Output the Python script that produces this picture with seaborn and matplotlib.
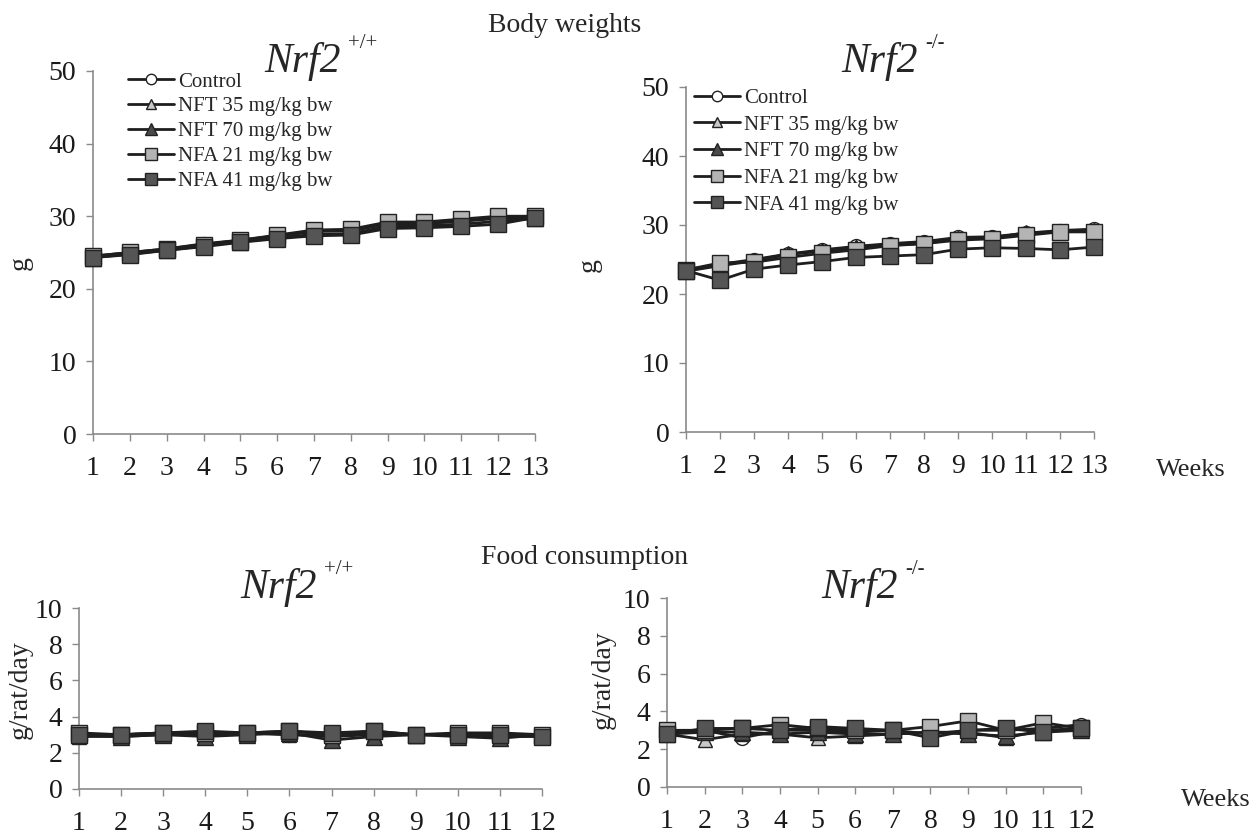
import numpy as np
import matplotlib
matplotlib.use("Agg")
import matplotlib.pyplot as plt
import seaborn as sns

# ---- data ----
groups = ["Control", "NFT 35 mg/kg bw", "NFT 70 mg/kg bw", "NFA 21 mg/kg bw", "NFA 41 mg/kg bw"]
weeks_bw = list(range(1, 14))
weeks_fc = list(range(1, 13))

bw_wt_control = [24.5, 25.0, 25.5, 26.2, 26.7, 27.3, 28.0, 28.0, 29.0, 29.0, 29.4, 29.8, 30.0]
bw_wt_nft35 = [24.4, 24.9, 25.4, 26.0, 26.6, 27.2, 27.9, 28.0, 28.9, 29.0, 29.3, 29.7, 29.8]
bw_wt_nft70 = [24.3, 24.8, 25.3, 25.9, 26.5, 27.0, 27.5, 27.6, 28.6, 28.7, 28.9, 29.3, 29.7]
bw_wt_nfa21 = [24.5, 25.0, 25.5, 26.1, 26.7, 27.4, 28.1, 28.2, 29.2, 29.2, 29.6, 30.0, 30.0]
bw_wt_nfa41 = [24.3, 24.7, 25.3, 25.8, 26.4, 26.9, 27.3, 27.4, 28.3, 28.4, 28.6, 28.9, 29.8]

bw_ko_control = [23.5, 24.3, 25.0, 25.8, 26.4, 26.9, 27.3, 27.6, 28.2, 28.3, 28.8, 29.2, 29.4]
bw_ko_nft35 = [23.4, 24.2, 24.9, 25.7, 26.3, 26.8, 27.2, 27.5, 28.1, 28.2, 28.7, 29.1, 29.3]
bw_ko_nft70 = [23.3, 24.1, 24.8, 25.8, 26.2, 26.7, 27.1, 27.3, 28.0, 28.1, 28.9, 29.0, 29.2]
bw_ko_nfa21 = [23.5, 24.5, 24.6, 25.3, 25.9, 26.4, 27.0, 27.3, 27.8, 28.0, 28.5, 29.0, 29.0]
bw_ko_nfa41 = [23.4, 22.0, 23.6, 24.2, 24.7, 25.3, 25.5, 25.7, 26.5, 26.7, 26.6, 26.4, 26.8]

fc_wt_control = [3.0, 3.0, 3.1, 3.1, 3.1, 3.0, 3.0, 3.1, 3.0, 3.0, 3.0, 3.0]
fc_wt_nft35 = [2.9, 2.9, 3.0, 3.0, 3.1, 3.0, 2.9, 3.0, 3.0, 3.0, 2.9, 2.9]
fc_wt_nft70 = [3.0, 2.9, 3.0, 2.9, 3.0, 3.1, 2.7, 2.9, 3.0, 2.9, 2.8, 3.0]
fc_wt_nfa21 = [3.1, 3.0, 3.1, 3.1, 3.1, 3.2, 3.0, 3.2, 3.0, 3.1, 3.1, 3.0]
fc_wt_nfa41 = [3.0, 3.0, 3.1, 3.2, 3.1, 3.2, 3.1, 3.2, 3.0, 3.0, 3.0, 2.9]

fc_ko_control = [2.9, 3.0, 2.6, 3.0, 3.0, 2.9, 3.0, 2.8, 3.0, 3.0, 3.1, 3.3]
fc_ko_nft35 = [2.8, 2.5, 2.8, 2.8, 2.6, 2.7, 2.8, 2.9, 2.9, 2.6, 3.0, 3.1]
fc_ko_nft70 = [2.8, 2.9, 2.9, 2.8, 2.9, 2.8, 2.8, 2.9, 2.8, 2.7, 2.9, 3.0]
fc_ko_nfa21 = [3.0, 3.0, 3.1, 3.3, 3.1, 3.0, 3.0, 3.2, 3.5, 3.0, 3.4, 3.1]
fc_ko_nfa41 = [2.8, 3.1, 3.1, 3.0, 3.2, 3.1, 3.0, 2.6, 3.0, 3.1, 2.9, 3.1]

# ---- style ----
sns.set_style("ticks")
plt.rcParams['font.family'] = ['Liberation Serif', 'DejaVu Serif']

markers = ["o", "^", "^", "s", "s"]
faces = ["white", "#c8c8c8", "#4a4a4a", "#b4b4b4", "#555555"]
msizes = [10, 10, 11, 11, 12]
line_col = "#1e1e1e"
axis_col = "#8a8a8a"

fig = plt.figure(figsize=(12.6, 8.34), dpi=100)
W, H = 1260.0, 834.0


def px_axes(x0, x1, ytop, ybot):
    return fig.add_axes([x0 / W, 1 - ybot / H, (x1 - x0) / W, (ybot - ytop) / H])


def draw_panel(ax, weeks, series, ymax, ystep, legend=False, leg_kw=None):
    for i, vals in enumerate(series):
        sns.lineplot(x=weeks, y=vals, ax=ax, color=line_col, linewidth=2.0,
                     marker=markers[i], markersize=msizes[i],
                     markerfacecolor=faces[i], markeredgecolor="#222222",
                     markeredgewidth=1.0, label=groups[i] if legend else None,
                     clip_on=False, zorder=3 + i)
    ax.set_xlim(weeks[0], weeks[-1])
    ax.set_ylim(0, ymax)
    ax.set_xticks(weeks)
    ax.set_yticks(np.arange(0, ymax + 0.1, ystep))
    ax.set_xticklabels([str(w) for w in weeks])
    sns.despine(ax=ax)
    for s in ["left", "bottom"]:
        ax.spines[s].set_color(axis_col)
        ax.spines[s].set_linewidth(1.2)
    ax.tick_params(axis="both", colors=axis_col, labelcolor="#1a1a1a",
                   labelsize=20, length=5, width=1.0)
    ax.tick_params(axis="x", pad=11)
    ax.tick_params(axis="y", pad=7)
    ax.set_xlabel("")
    ax.set_ylabel("")
    if legend:
        ax.legend(frameon=False, fontsize=15, handlelength=2.2, handletextpad=0.2,
                  borderaxespad=0, markerscale=0.75, **leg_kw)
    elif ax.get_legend() is not None:
        ax.get_legend().remove()


# Body weights, Nrf2 +/+
ax1 = px_axes(93, 535, 71, 434)
draw_panel(ax1, weeks_bw, [bw_wt_control, bw_wt_nft35, bw_wt_nft70, bw_wt_nfa21, bw_wt_nfa41],
           50, 10, legend=True,
           leg_kw=dict(loc="upper left", bbox_to_anchor=(0.06, 1.02), labelspacing=0.25))

# Body weights, Nrf2 -/-
ax2 = px_axes(686, 1094, 87, 432)
draw_panel(ax2, weeks_bw, [bw_ko_control, bw_ko_nft35, bw_ko_nft70, bw_ko_nfa21, bw_ko_nfa41],
           50, 10, legend=True,
           leg_kw=dict(loc="upper left", bbox_to_anchor=(0.0, 1.02), labelspacing=0.34))

# Food consumption, Nrf2 +/+
ax3 = px_axes(79, 542, 608, 789)
draw_panel(ax3, weeks_fc, [fc_wt_control, fc_wt_nft35, fc_wt_nft70, fc_wt_nfa21, fc_wt_nfa41],
           10, 2)

# Food consumption, Nrf2 -/-
ax4 = px_axes(667, 1081, 598, 787)
draw_panel(ax4, weeks_fc, [fc_ko_control, fc_ko_nft35, fc_ko_nft70, fc_ko_nfa21, fc_ko_nfa41],
           10, 2)

# ---- texts ----
def ftext(x, y, s, **kw):
    fig.text(x / W, 1 - y / H, s, **kw)

ftext(565, 25, "Body weights", ha="center", va="center", fontsize=20)
ftext(585, 557, "Food consumption", ha="center", va="center", fontsize=20)

for (xr, yb, sup) in [(341, 72, "+/+"), (918, 72, "-/-"), (317, 598, "+/+"), (898, 598, "-/-")]:
    ftext(xr, yb, "Nrf2", ha="right", va="baseline", fontsize=30, style="italic")
    ftext(xr + 7, yb - 24, sup, ha="left", va="baseline", fontsize=15)

ftext(1191, 470, "Weeks", ha="center", va="center", fontsize=19)
ftext(1216, 800, "Weeks", ha="center", va="center", fontsize=19)

ftext(20, 263, "g", ha="center", va="center", fontsize=20, rotation=90)
ftext(589, 265, "g", ha="center", va="center", fontsize=20, rotation=90)
ftext(20, 690, "g/rat/day", ha="center", va="center", fontsize=20, rotation=90)
ftext(603, 680, "g/rat/day", ha="center", va="center", fontsize=20, rotation=90)

fig.savefig("out.png", dpi=100)
